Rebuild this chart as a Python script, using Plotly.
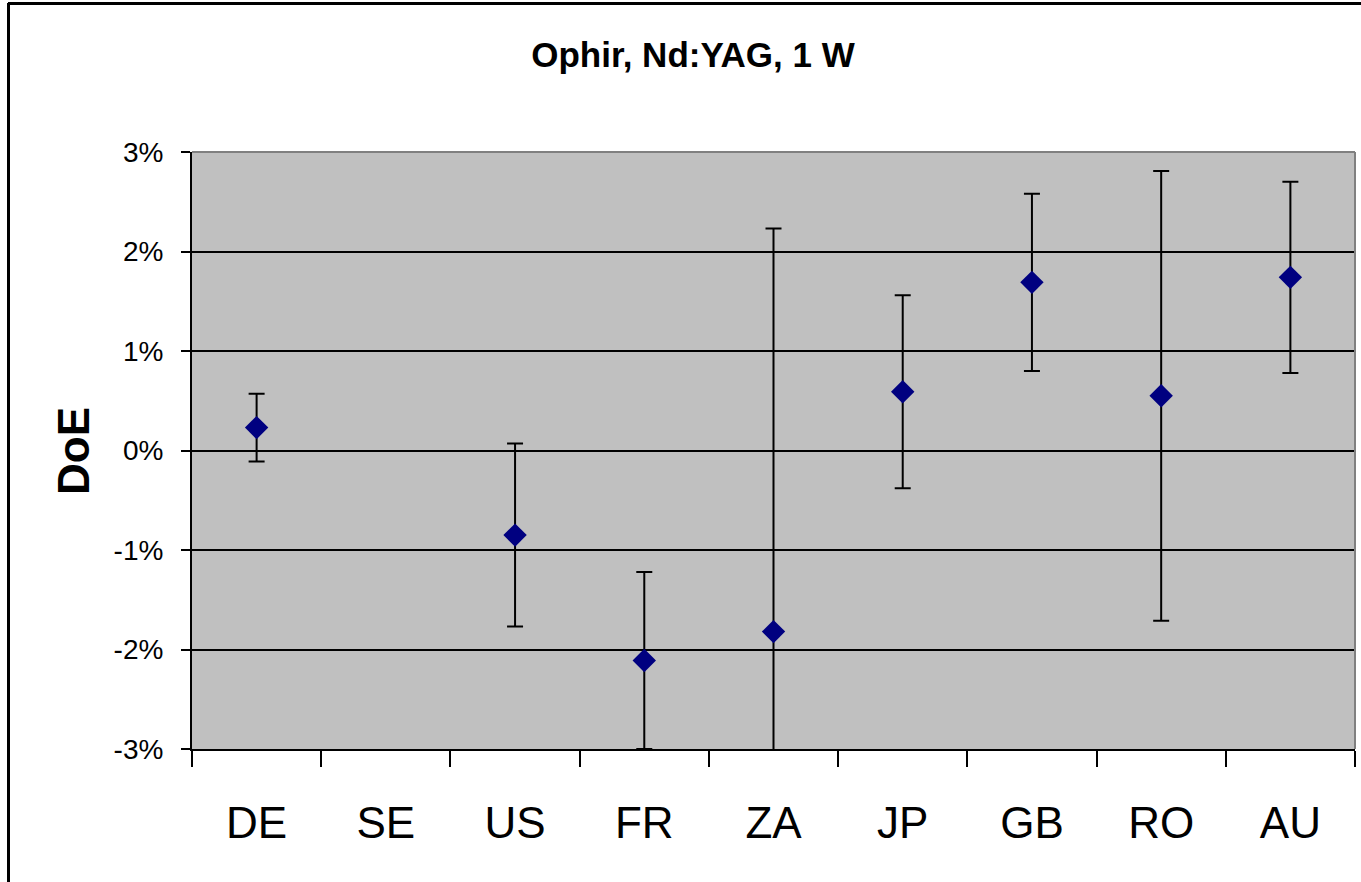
import plotly.graph_objects as go

# Data (DoE in %)
countries = ["DE", "SE", "US", "FR", "ZA", "JP", "GB", "RO", "AU"]
doe = [0.23, None, -0.85, -2.11, -1.82, 0.59, 1.69, 0.55, 1.74]
unc = [0.34, None, 0.92, 0.89, 4.05, 0.97, 0.89, 2.26, 0.96]
ytick_vals = [-3, -2, -1, 0, 1, 2, 3]
ytick_text = ["-3%", "-2%", "-1%", "0%", "1%", "2%", "3%"]

W, H = 1361, 882
L, R, T, B = 192, 6, 152, 133
pw, ph = W - L - R, H - T - B

def px_x(p):
    return (p - L) / pw

def px_y(p):
    return 1 - (p - T) / ph

FONT = "Liberation Sans, Arial, sans-serif"

fig = go.Figure()
fig.add_trace(go.Scatter(
    x=countries, y=doe, mode="markers",
    marker=dict(symbol="diamond", size=18, color="#000080", line=dict(width=0)),
    error_y=dict(type="data", array=unc, visible=True, color="black", thickness=2, width=8),
    showlegend=False,
    cliponaxis=False,
))

fig.update_layout(
    width=W, height=H,
    margin=dict(l=L, r=R, t=T, b=B),
    paper_bgcolor="white", plot_bgcolor="#C0C0C0",
    font=dict(family=FONT, color="black"),
    title=dict(text="<b>Ophir, Nd:YAG, 1 W</b>", font=dict(size=35, family=FONT),
               x=693 / W, xref="container", xanchor="center",
               y=1 - 55 / H, yref="container", yanchor="middle"),
    xaxis=dict(type="category", range=[-0.5, 8.5], tickson="boundaries",
               ticks="outside", ticklen=16, tickwidth=2, tickcolor="black",
               showline=True, linecolor="black", linewidth=2,
               showgrid=False, tickfont=dict(size=44), ticklabelstandoff=34),
    yaxis=dict(range=[-3, 3], tickvals=ytick_vals, ticktext=ytick_text,
               ticks="outside", ticklen=9, tickwidth=2, tickcolor="black",
               showline=True, linecolor="black", linewidth=2,
               showgrid=True, gridcolor="black", gridwidth=2,
               zeroline=False, tickfont=dict(size=28), ticklabelstandoff=12),
)

# gray top/right border of plot area
fig.add_shape(type="line", xref="paper", yref="paper", x0=0, x1=1, y0=1, y1=1,
              line=dict(color="#808080", width=2), layer="above")
fig.add_shape(type="line", xref="paper", yref="paper", x0=1, x1=1, y0=0, y1=1,
              line=dict(color="#808080", width=2), layer="above")
# outer chart frame (left & top edges visible)
fig.add_shape(type="line", xref="paper", yref="paper", x0=px_x(8.5), x1=px_x(8.5),
              y0=px_y(3), y1=px_y(H + 5), line=dict(color="black", width=3), layer="above")
fig.add_shape(type="line", xref="paper", yref="paper", x0=px_x(8), x1=px_x(W + 5),
              y0=px_y(3.5), y1=px_y(3.5), line=dict(color="black", width=3), layer="above")

fig.add_annotation(text="<b>DoE</b>", xref="paper", yref="paper",
                   x=px_x(73), y=px_y(451), textangle=-90, showarrow=False,
                   font=dict(size=44, family=FONT), xanchor="center", yanchor="middle")

fig.write_html("out.html")
